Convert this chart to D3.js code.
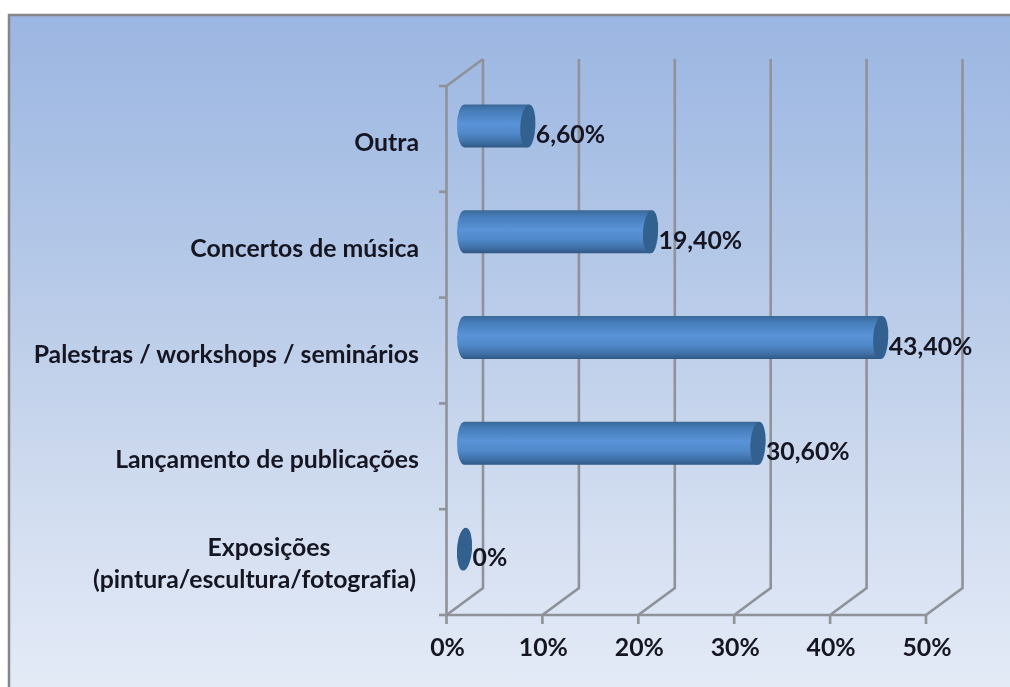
<!DOCTYPE html>
<html><head><meta charset="utf-8">
<script src="https://cdnjs.cloudflare.com/ajax/libs/d3/7.8.5/d3.min.js"></script>
<style>html,body{margin:0;padding:0;background:#fff}svg{display:block}
text{font-family:Lato,"Open Sans",sans-serif;font-weight:700;fill:#161622;font-size:24.8px;font-variant-ligatures:none}</style>
</head><body><svg id="c" width="1010" height="687"></svg>
<script>
const categories = ["Exposições\n(pintura/escultura/fotografia)","Lançamento de publicações","Palestras / workshops / seminários","Concertos de música","Outra"];
const values = [0,30.6,43.4,19.4,6.6];
const valueLabels = ["0%","30,60%","43,40%","19,40%","6,60%"];
const xTicks = [0,10,20,30,40,50];
const xTickLabels = ["0%","10%","20%","30%","40%","50%"];

const svg = d3.select("#c");
const defs = svg.append("defs");
const bg = defs.append("linearGradient").attr("id","bg").attr("x1",0).attr("y1",0).attr("x2",0).attr("y2",1);
[[0,"#9bb6e2"],[.35,"#b3c7e7"],[.7,"#cfdbef"],[1,"#e4ebf7"]].forEach(s=>bg.append("stop").attr("offset",s[0]).attr("stop-color",s[1]));
const bar = defs.append("linearGradient").attr("id","bar").attr("x1",0).attr("y1",0).attr("x2",0).attr("y2",1);
[[0,"#3a6797"],[.14,"#457cb8"],[.45,"#5a93d8"],[.68,"#5089c9"],[.88,"#3f6fa6"],[1,"#2f5784"]].forEach(s=>bar.append("stop").attr("offset",s[0]).attr("stop-color",s[1]));
defs.append("filter").attr("id","soft").append("feGaussianBlur").attr("stdDeviation",0.6);

const root = svg.append("g").attr("filter","url(#soft)");
root.append("rect").attr("x",9).attr("y",15).attr("width",1003).attr("height",674).attr("fill","url(#bg)").attr("stroke","#85858c").attr("stroke-width",2.5);

const x = d3.scaleLinear().domain([0,50]).range([446.5,926]);
const y = d3.scaleBand().domain(categories).range([615,86]).paddingInner(0).paddingOuter(0);
const dx = 36.5, dy = -27;
const grey = "#8f9298";
const line = (a,b,c,d)=>root.append("line").attr("x1",a).attr("y1",b).attr("x2",c).attr("y2",d).attr("stroke",grey).attr("stroke-width",2.6);

// gridlines on the walls
xTicks.forEach(t=>{
  root.append("path").attr("fill","none").attr("stroke",grey).attr("stroke-width",2.6)
    .attr("d",d3.line()([[x(t),y.range()[0]],[x(t)+dx,y.range()[0]+dy],[x(t)+dx,y.range()[1]+dy]]));
});
root.append("path").attr("fill","none").attr("stroke",grey).attr("stroke-width",2.6)
  .attr("d",d3.line()([[x(0),y.range()[1]],[x(0)+dx,y.range()[1]+dy]]));

// axes
line(x(0),y.range()[0],x(0),y.range()[1]);
line(x(0),y.range()[0],x(50),y.range()[0]);
xTicks.forEach((t,i)=>{
  line(x(t),615,x(t),624);
  root.append("text").attr("x",x(t)+1).attr("y",656).attr("text-anchor","middle").text(xTickLabels[i]);
});
categories.forEach(c=>line(439,y(c)+y.bandwidth(),446.5,y(c)+y.bandwidth()));
line(439,86,446.5,86);

// category labels
categories.forEach(c=>{
  const parts = c.split("\n"), cy = y(c)+y.bandwidth()/2-13;
  const t = root.append("text").attr("text-anchor","middle");
  if(parts.length===1){
    t.attr("text-anchor","end").attr("x",419).attr("y",cy+25).text(c);
  } else {
    parts.forEach((p,i)=>t.append("tspan").attr("x",i?254.5:269).attr("y",cy+7+i*32).text(p));
  }
});

// cylinders
const off = 18, hb = 21.5, rx = 7.5;
categories.forEach((c,i)=>{
  const x0 = x(0)+off, x1 = x(values[i])+off, cy = y(c)+y.bandwidth()/2-13;
  if(values[i]>0){
    root.append("path").attr("fill","url(#bar)")
      .attr("d",`M${x0},${cy-hb}L${x1},${cy-hb}A${rx},${hb} 0 0 1 ${x1},${cy+hb}L${x0},${cy+hb}A${rx},${hb} 0 0 1 ${x0},${cy-hb}Z`);
  }
  root.append("ellipse").attr("cx",x1).attr("cy",cy).attr("rx",rx).attr("ry",hb)
    .attr("fill","#30608f").attr("transform",`rotate(4 ${x1} ${cy})`);
  root.append("text").attr("x",x1+8).attr("y",cy+17).text(valueLabels[i]);
});
</script></body></html>
